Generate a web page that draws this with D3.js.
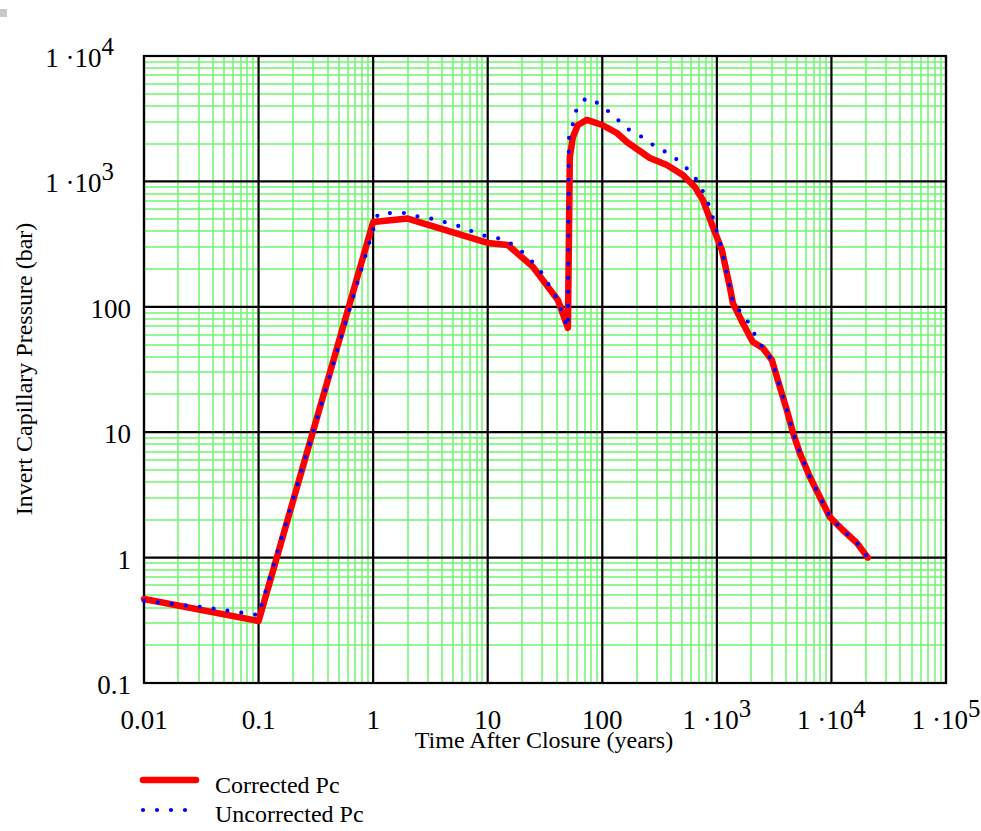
<!DOCTYPE html>
<html><head><meta charset="utf-8">
<script src="https://cdn.jsdelivr.net/npm/d3@7"></script>
<style>body{margin:0;background:#fff}svg{display:block}</style>
</head><body>
<script>
// Data (time in years, pressure in bar)
const correctedT = [0.01,0.1,1.0,2.0,10,15,24.8,41,50.1,52.1,55.4,61.2,73.4,100,134,164,260,366,505,643,755,923,1106,1298,1380,1687,2061,2518,3020,3548,4083,4603,5297,6486,7925,9683,12560,16670,20780];
const correctedP = [0.468,0.312,474,505,323,311,208,113,68,1566,2261,2818,3090,2818,2432,2062,1537,1352,1125,902,711,433,284,144,107,74,52.4,46.9,37.7,22.9,15.0,10.0,6.82,4.39,3.04,2.11,1.66,1.31,1.0];
const uncorrT = [0.01,0.032,0.056,0.1,1.10,1.46,1.93,2.56,3.39,4.49,5.95,7.89,10.2,13.6,18,23.4,29.7,34.9,41,45.3,50.1,51.2,55.4,58.9,71.9,95.3,126,167,222,294,389,515,656,770,863,942,1106,1298,1380,1791,2104,2518,3020,3548,4083,4603,5297,6486,7925,9683,12560,16670,20780];
const uncorrP = [0.451,0.404,0.375,0.348,550,560,560,520,501,466,433,388,360,347,300,240,186,144,113,86,68,2218,2870,3641,4624,4140,3324,2618,2260,1880,1653,1352,1045,808,625,483,284,144,107,81.5,61.8,46.9,37.7,22.9,15.0,10.0,6.82,4.39,3.04,2.11,1.66,1.31,1.0];
const xTickVals = [0.01,0.1,1,10,100,1e3,1e4,1e5];
const xTickLabels = [["0.01",""],["0.1",""],["1",""],["10",""],["100",""],["1 \u00B710","3"],["1 \u00B710","4"],["1 \u00B710","5"]];
const yTickVals = [0.1,1,10,100,1e3,1e4];
const yTickLabels = [["0.1",""],["1",""],["10",""],["100",""],["1 \u00B710","3"],["1 \u00B710","4"]];
const seriesNames = ["Corrected Pc","Uncorrected Pc"];

const W = 981, H = 831;
const svg = d3.select("body").append("svg").attr("width",W).attr("height",H);
const font = "'Liberation Serif','Times New Roman',serif";
svg.append("rect").attr("x",0).attr("y",9).attr("width",7).attr("height",8).attr("fill","#c8c8c8");

const x = d3.scaleLog().domain([0.01,1e5]).range([144,946]);
const y = d3.scaleLog().domain([0.1,1e4]).range([683,56]);

// minor grid
const minorX = [], minorY = [];
for (let e=-2;e<5;e++) for (let k=2;k<10;k++) minorX.push(k*Math.pow(10,e));
for (let e=-1;e<4;e++) for (let k=2;k<10;k++) minorY.push(k*Math.pow(10,e));
const g = svg.append("g");
g.selectAll(".mx").data(minorX).join("line")
  .attr("x1",d=>Math.round(x(d))).attr("x2",d=>Math.round(x(d)))
  .attr("y1",y(0.1)).attr("y2",y(1e4)).attr("stroke","#6ff46f").attr("stroke-width",1.5);
g.selectAll(".my").data(minorY).join("line")
  .attr("y1",d=>Math.round(y(d))).attr("y2",d=>Math.round(y(d)))
  .attr("x1",x(0.01)).attr("x2",x(1e5)).attr("stroke","#6ff46f").attr("stroke-width",1.5);
// major grid
g.selectAll(".Mx").data(xTickVals).join("line")
  .attr("x1",d=>x(d)).attr("x2",d=>x(d)).attr("y1",y(0.1)).attr("y2",y(1e4))
  .attr("stroke","#000").attr("stroke-width",2.2);
g.selectAll(".My").data(yTickVals).join("line")
  .attr("y1",d=>y(d)).attr("y2",d=>y(d)).attr("x1",x(0.01)).attr("x2",x(1e5))
  .attr("stroke","#000").attr("stroke-width",2.2);
svg.append("rect").attr("x",x(0.01)).attr("y",y(1e4)).attr("width",x(1e5)-x(0.01)).attr("height",y(0.1)-y(1e4))
  .attr("fill","none").attr("stroke","#000").attr("stroke-width",2.2);

// lines
const line = d3.line().x(d=>x(d[0])).y(d=>y(d[1]));
const cData = correctedT.map((t,i)=>[t,correctedP[i]]);
const uData = uncorrT.map((t,i)=>[t,uncorrP[i]]);
svg.append("path").datum(cData).attr("d",line).attr("fill","none").attr("stroke","#ff0000")
  .attr("stroke-width",6.5).attr("stroke-linejoin","round").attr("stroke-linecap","round");
svg.append("path").datum(uData).attr("d",line).attr("fill","none").attr("stroke","#0000ff")
  .attr("stroke-width",4.2).attr("stroke-dasharray","0 14").attr("stroke-linecap","round");

// tick labels
function lab(sel, parts){
  sel.append("tspan").text(parts[0]);
  if (parts[1]) sel.append("tspan").attr("dy","-0.48em").attr("font-size","0.92em").text(parts[1]);
}
xTickVals.forEach((v,i)=>{
  const t = svg.append("text").attr("x",x(v)).attr("y",729).attr("text-anchor","middle")
    .attr("font-family",font).attr("font-size",27).attr("fill","#000");
  lab(t, xTickLabels[i]);
});
yTickVals.forEach((v,i)=>{
  const sup = !!yTickLabels[i][1];
  const t = svg.append("text").attr("x",sup?114:131).attr("y",y(v)+11).attr("text-anchor","end")
    .attr("font-family",font).attr("font-size",27).attr("fill","#000");
  lab(t, yTickLabels[i]);
});

// axis titles
svg.append("text").attr("x",544).attr("y",748).attr("text-anchor","middle")
  .attr("font-family",font).attr("font-size",24).text("Time After Closure (years)");
svg.append("text").attr("transform","translate(32,369) rotate(-90)").attr("text-anchor","middle")
  .attr("font-family",font).attr("font-size",24).text("Invert Capillary Pressure (bar)");

// legend
svg.append("line").attr("x1",143).attr("x2",196).attr("y1",780).attr("y2",780)
  .attr("stroke","#ff0000").attr("stroke-width",6.5).attr("stroke-linecap","round");
svg.append("line").attr("x1",143).attr("x2",190).attr("y1",810).attr("y2",810)
  .attr("stroke","#0000ff").attr("stroke-width",4.2).attr("stroke-dasharray","0 14").attr("stroke-linecap","round");
svg.append("text").attr("x",215).attr("y",793).attr("font-family",font).attr("font-size",24).text(seriesNames[0]);
svg.append("text").attr("x",215).attr("y",822).attr("font-family",font).attr("font-size",24).text(seriesNames[1]);
</script>
</body></html>
